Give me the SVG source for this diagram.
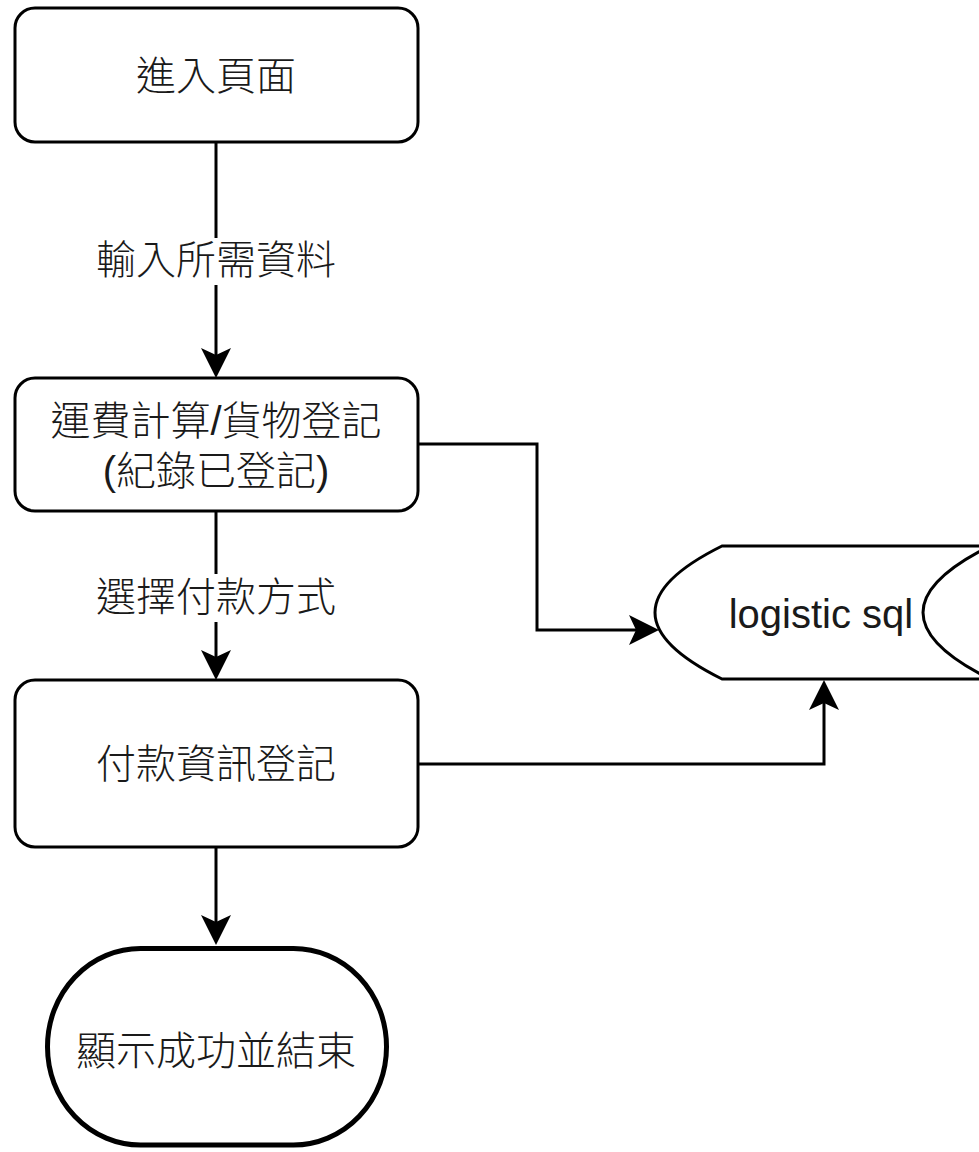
<svg xmlns="http://www.w3.org/2000/svg" width="979" height="1152" viewBox="0 0 979 1152">
<style>
.box{fill:#fff;stroke:#000;stroke-width:3}
.term{fill:#fff;stroke:#000;stroke-width:5}
.edge{fill:none;stroke:#000;stroke-width:3}
.t{font-family:"Liberation Sans","Noto Sans CJK TC",sans-serif;font-size:40px;font-weight:300;fill:#1a1a1a;text-anchor:middle}
.lbg{fill:#fff}
</style>
<defs>
<marker id="arr" markerUnits="userSpaceOnUse" viewBox="-8 -16 32 32" markerWidth="32" markerHeight="32" refX="0" refY="0" orient="auto" overflow="visible">
<path d="M23,0 L-7,-15 L0,0 L-7,15 Z" fill="#000"/>
</marker>
</defs>
<g id="connectors">
<path class="edge" d="M216,142 V355" marker-end="url(#arr)"/>
<path class="edge" d="M216,512 V657" marker-end="url(#arr)"/>
<path class="edge" d="M216,847 V922" marker-end="url(#arr)"/>
<path class="edge" d="M418,444 H537 V630 H636" marker-end="url(#arr)"/>
<path class="edge" d="M418,764 H824 V703" marker-end="url(#arr)"/>
<g id="label1"><rect class="lbg" x="95" y="238" width="244" height="47"/><text class="t" x="216" y="274">輸入所需資料</text></g>
<g id="label2"><rect class="lbg" x="95" y="574" width="244" height="48"/><text class="t" x="216" y="611">選擇付款方式</text></g>
</g>
<g id="n1"><rect class="box" x="15" y="8" width="403" height="134" rx="20"/><text class="t" x="216" y="90">進入頁面</text></g>
<g id="n2"><rect class="box" x="15" y="378" width="403" height="133" rx="20"/><text class="t" x="216" y="435">運費計算/貨物登記</text><text class="t" x="216" y="485">(紀錄已登記)</text></g>
<g id="n3"><rect class="box" x="15" y="680" width="403" height="167" rx="20"/><text class="t" x="216" y="778">付款資訊登記</text></g>
<g id="n4"><rect class="term" x="47.5" y="948.5" width="339" height="196.5" rx="93" ry="98"/><text class="t" x="216" y="1065">顯示成功並結束</text></g>
<g id="db">
<path class="box" d="M722,546 H1000 V679 H722 Q588,612.5 722,546 Z"/>
<path class="edge" d="M990,546 Q856,612.5 990,679"/>
<text class="t" x="821" y="628">logistic sql</text>
</g>
</svg>
